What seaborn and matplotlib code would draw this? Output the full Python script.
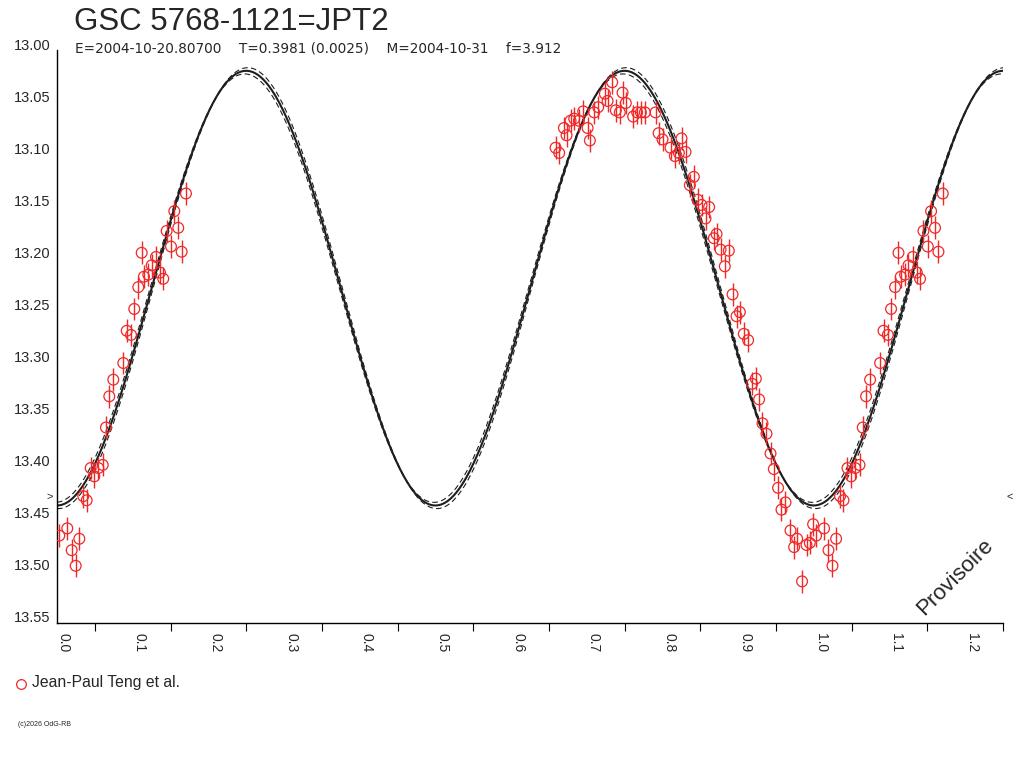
import numpy as np
import pandas as pd
import matplotlib
matplotlib.use("Agg")
import matplotlib.pyplot as plt
import matplotlib.lines as mlines
import seaborn as sns

TITLE = "GSC 5768-1121=JPT2"
SUBTITLE = "E=2004-10-20.80700    T=0.3981 (0.0025)    M=2004-10-31    f=3.912"
OBSERVER = "Jean-Paul Teng et al."
COPYRIGHT = "(c)2026 OdG-RB"
STAMP = "Provisoire"

PHASE = [0.003, 0.0136, 0.0194, 0.0247, 0.0295, 0.0347, 0.0392, 0.0445, 0.0493,
         0.0546, 0.0604, 0.0647, 0.0691, 0.0744, 0.0876, 0.0921, 0.0978, 0.1021,
         0.1074, 0.1119, 0.1149, 0.1206, 0.1251, 0.1308, 0.1361, 0.1404, 0.1449,
         0.1506, 0.1550, 0.1602, 0.1647, 0.1704,
         0.6588, 0.6636, 0.6698, 0.6733, 0.6786, 0.6834, 0.6896, 0.6953, 0.7011,
         0.7041, 0.7098, 0.7151, 0.7239, 0.7275, 0.7336, 0.7473, 0.7384, 0.7437,
         0.7516, 0.7613, 0.7666, 0.7715, 0.7768, 0.7909, 0.7949, 0.8001, 0.8107,
         0.8164, 0.8217, 0.8252, 0.8305, 0.8362, 0.8415, 0.8464, 0.8517, 0.8569,
         0.8617, 0.8679, 0.8715, 0.8768, 0.8877, 0.8824, 0.8926, 0.8979, 0.9023,
         0.9075, 0.9132, 0.9185, 0.9234, 0.9277, 0.9322, 0.9375, 0.9428, 0.9472,
         0.9528, 0.9573, 0.9626, 0.9692, 0.9740, 0.9780, 0.9845, 0.9904, 0.9947,
         0.9991]
MAG = [13.467, 13.460, 13.481, 13.496, 13.470, 13.429, 13.433, 13.402, 13.410,
       13.402, 13.399, 13.363, 13.333, 13.317, 13.301, 13.270, 13.274, 13.249,
       13.228, 13.195, 13.218, 13.216, 13.207, 13.199, 13.214, 13.220, 13.174,
       13.189, 13.155, 13.171, 13.194, 13.138,
       13.094, 13.099, 13.075, 13.082, 13.068, 13.066, 13.068, 13.059, 13.075,
       13.087, 13.060, 13.055, 13.042, 13.049, 13.031, 13.041, 13.058, 13.060,
       13.051, 13.064, 13.060, 13.060, 13.060, 13.060, 13.080, 13.086, 13.094,
       13.102, 13.099, 13.085, 13.098, 13.130, 13.122, 13.144, 13.149, 13.162,
       13.151, 13.181, 13.177, 13.192, 13.193, 13.208, 13.235, 13.256, 13.252,
       13.273, 13.279, 13.321, 13.316, 13.336, 13.359, 13.369, 13.388, 13.403,
       13.421, 13.442, 13.435, 13.462, 13.478, 13.470, 13.511, 13.476, 13.474,
       13.456]
MAG_ERR = 0.011

# fitted double wave: mean level, half amplitude, envelope spread
FIT_MEAN = 13.229
FIT_AMP = 0.209
ENV_AMP = 0.003
ENV_PHASE = 0.002
MIN_MARK = 13.43

XTICKS = [0.0, 0.1, 0.2, 0.3, 0.4, 0.5, 0.6, 0.7, 0.8, 0.9, 1.0, 1.1, 1.2]
YTICKS = [13.00, 13.05, 13.10, 13.15, 13.20, 13.25, 13.30, 13.35, 13.40, 13.45, 13.50, 13.55]

RED = "#f02828"
INK = "#1e1e1e"


def fold_data():
    df = pd.DataFrame({"phase": PHASE, "mag": MAG})
    nxt = df.copy()
    nxt["phase"] = nxt["phase"] + 1.0
    df = pd.concat([df, nxt], ignore_index=True)
    return df[(df["phase"] >= 0.0) & (df["phase"] <= 1.25)]


def fit_curves():
    ph = np.linspace(0.0, 1.25, 800)
    rows = []
    for name, amp, shift in [("fit", FIT_AMP, 0.0),
                             ("hi", FIT_AMP + ENV_AMP, -ENV_PHASE),
                             ("lo", FIT_AMP - ENV_AMP, ENV_PHASE)]:
        m = FIT_MEAN + amp * np.cos(4 * np.pi * (ph + shift))
        rows.append(pd.DataFrame({"phase": ph, "mag": m, "curve": name}))
    return pd.concat(rows, ignore_index=True)


def main():
    sns.set_style("white")
    plt.rcParams["font.family"] = ["Liberation Sans", "DejaVu Sans"]

    fig = plt.figure(figsize=(10.24, 7.68), dpi=100)
    ax = fig.add_axes([57 / 1024, 1 - 623 / 768, 946 / 1024, 573 / 768])

    curves = fit_curves()
    sns.lineplot(data=curves[curves["curve"] == "fit"], x="phase", y="mag",
                 color=INK, lw=1.5, ax=ax, sort=False)
    for name in ["hi", "lo"]:
        sns.lineplot(data=curves[curves["curve"] == name], x="phase", y="mag",
                     color=INK, lw=0.8, ax=ax, sort=False, dashes=False,
                     linestyle=(0, (5, 3)))

    df = fold_data()
    ax.vlines(df["phase"], df["mag"] - MAG_ERR, df["mag"] + MAG_ERR,
              color=RED, lw=1.0, zorder=3)
    sns.scatterplot(data=df, x="phase", y="mag", marker="o", s=60,
                    facecolor="none", edgecolor=RED, linewidth=0.9,
                    ax=ax, zorder=4)

    ax.set_xlim(0.0, 1.25)
    ax.set_ylim(13.551, 13.0)
    ax.set_xlabel("")
    ax.set_ylabel("")
    for side in ["top", "right"]:
        ax.spines[side].set_visible(False)
    for side in ["left", "bottom"]:
        ax.spines[side].set_color("black")
        ax.spines[side].set_linewidth(1.0)

    ax.set_xticks(XTICKS)
    ax.set_xticks(np.arange(0.05, 1.26, 0.1), minor=True)
    ax.set_xticklabels([f"{t:.1f}" for t in XTICKS], rotation=-90,
                       ha="left", va="top", fontsize=10)
    ax.tick_params(axis="x", which="major", direction="out", length=7.2,
                   width=0.8, color="black", pad=0)
    ax.tick_params(axis="x", which="minor", direction="out", length=5.8,
                   width=0.8, color="black", bottom=True)

    ax.set_yticks(YTICKS)
    ax.set_yticklabels([f"{t:.2f}" for t in YTICKS], fontsize=10.5)
    ax.tick_params(axis="y", direction="out", length=7.2, width=0.8,
                   color="black", pad=-2.5)
    for lab in ax.get_yticklabels():
        lab.set_verticalalignment("baseline")

    ax.text(-0.004, MIN_MARK, ">", transform=ax.get_yaxis_transform(),
            ha="right", va="center", fontsize=8)
    ax.text(1.004, MIN_MARK, "<", transform=ax.get_yaxis_transform(),
            ha="left", va="center", fontsize=8)

    fig.text(74 / 1024, 1 - 30 / 768, TITLE, fontsize=22.5, va="baseline")
    fig.text(75 / 1024, 1 - 52 / 768, SUBTITLE, fontsize=9.8, va="baseline",
             family=["DejaVu Sans"])
    fig.text(955 / 1024, 1 - 577 / 768, STAMP, fontsize=16, rotation=45,
             ha="center", va="center")

    fig.add_artist(mlines.Line2D([21 / 1024], [1 - 684 / 768],
                                 transform=fig.transFigure, marker="o",
                                 markersize=7, mfc="none", mec=RED,
                                 mew=0.9, ls="none"))
    fig.text(32 / 1024, 1 - 683 / 768, OBSERVER, fontsize=11.3, va="center")
    fig.text(18 / 1024, 1 - 725 / 768, COPYRIGHT, fontsize=5, va="center")

    fig.savefig("out.png", dpi=100)


if __name__ == "__main__":
    main()
